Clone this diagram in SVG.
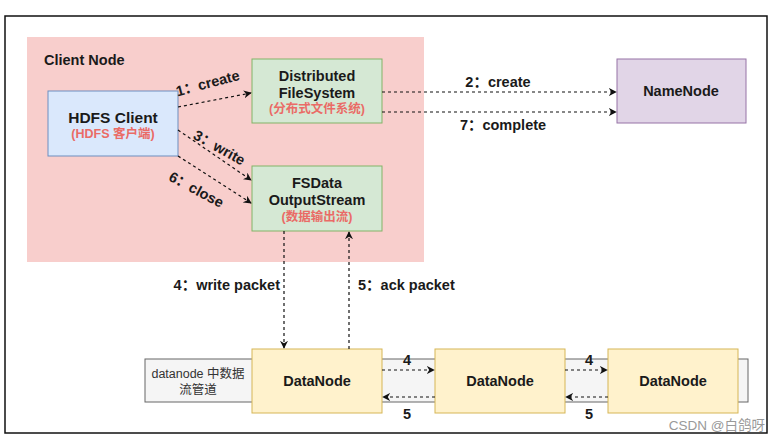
<svg xmlns="http://www.w3.org/2000/svg" width="782" height="441" viewBox="0 0 782 441">
<defs>
<style>
text{font-family:"Liberation Sans","Noto Sans CJK SC",sans-serif;}
.t{font-size:14.5px;font-weight:bold;fill:#1a1a1a;text-anchor:middle;}
.r{font-size:12.5px;font-weight:bold;fill:#ea6b66;text-anchor:middle;}
.l{font-size:14.5px;font-weight:bold;fill:#1a1a1a;}
.c{fill:none;stroke:#111;stroke-width:1.2;stroke-dasharray:3 3;}
.dn{fill:#fff2cc;stroke:#d6b656;stroke-width:1;}
.gr{fill:#d5e8d4;stroke:#82b366;stroke-width:1;}
</style>
<marker id="ah" viewBox="0 0 10 10" refX="9" refY="5" markerWidth="8" markerHeight="8" orient="auto" markerUnits="userSpaceOnUse">
<path d="M0,0 L10,5 L0,10 L3,5 z" fill="#111"/>
</marker>
</defs>
<rect x="0" y="0" width="782" height="441" fill="#fff"/>
<rect x="5" y="16" width="762" height="417" fill="#fff" stroke="#111" stroke-width="1.5"/>

<g id="client-node">
<rect x="27" y="37" width="397" height="225" fill="#f8cecc"/>
<text x="44" y="65" class="l">Client Node</text>
</g>

<g id="pipeline">
<rect x="145" y="359" width="603" height="43" fill="#f5f5f5" stroke="#666" stroke-width="1"/>
<text x="198" y="378" style="font-size:12.5px;fill:#333;text-anchor:middle">datanode 中数据</text>
<text x="198" y="394" style="font-size:12.5px;fill:#333;text-anchor:middle">流管道</text>
</g>

<g id="hdfs-client">
<rect x="48" y="91" width="130" height="65" fill="#dae8fc" stroke="#6c8ebf" stroke-width="1"/>
<text x="113" y="123" class="t" style="font-size:15.5px">HDFS Client</text>
<text x="113" y="138" class="r">(HDFS 客户端)</text>
</g>

<g id="dfs">
<rect x="252" y="59" width="130" height="64" class="gr"/>
<text x="317" y="81" class="t">Distributed</text>
<text x="317" y="98" class="t">FileSystem</text>
<text x="317" y="113" class="r">(分布式文件系统)</text>
</g>

<g id="fsdos">
<rect x="252" y="166" width="130" height="65" class="gr"/>
<text x="317" y="188" class="t">FSData</text>
<text x="317" y="205" class="t">OutputStream</text>
<text x="317" y="221" class="r">(数据输出流)</text>
</g>

<g id="namenode">
<rect x="617" y="59" width="129" height="64" fill="#e1d5e7" stroke="#9673a6" stroke-width="1"/>
<text x="681" y="96" class="t">NameNode</text>
</g>

<g id="datanode1">
<rect x="252" y="349" width="130" height="64" class="dn"/>
<text x="317" y="386" class="t">DataNode</text>
</g>
<g id="datanode2">
<rect x="435" y="349" width="130" height="64" class="dn"/>
<text x="500" y="386" class="t">DataNode</text>
</g>
<g id="datanode3">
<rect x="608" y="349" width="130" height="64" class="dn"/>
<text x="673" y="386" class="t">DataNode</text>
</g>

<g id="connectors">
<path d="M178,107 L251,93" class="c" marker-end="url(#ah)"/>
<path d="M178,130 L251,180" class="c" marker-end="url(#ah)"/>
<path d="M178,156 L251,203" class="c" marker-end="url(#ah)"/>
<path d="M382,92 L616,92" class="c" marker-end="url(#ah)"/>
<path d="M382,112 L616,112" class="c" marker-end="url(#ah)"/>
<path d="M284,231 L284,348" class="c" marker-end="url(#ah)"/>
<path d="M349,349 L349,232" class="c" marker-end="url(#ah)"/>
<path d="M382,370 L434,370" class="c" marker-end="url(#ah)"/>
<path d="M435,397 L383,397" class="c" marker-end="url(#ah)"/>
<path d="M565,370 L607,370" class="c" marker-end="url(#ah)"/>
<path d="M608,397 L566,397" class="c" marker-end="url(#ah)"/>

<text transform="translate(209,88) rotate(-15)" class="t">1：create</text>
<text transform="translate(217,152) rotate(29)" class="t">3：write</text>
<text transform="translate(194,194) rotate(28)" class="t">6：close</text>
<text x="498" y="87" class="t">2：create</text>
<text x="503" y="130" class="t">7：complete</text>
<text x="280" y="290" class="l" text-anchor="end">4：write packet</text>
<text x="358" y="290" class="l">5：ack packet</text>
<text x="407" y="365" class="t">4</text>
<text x="407" y="419" class="t">5</text>
<text x="589" y="365" class="t">4</text>
<text x="589" y="419" class="t">5</text>
</g>

<text x="765" y="430" style="font-size:13.5px;fill:#999;text-anchor:end">CSDN @白鸽呀</text>
</svg>
